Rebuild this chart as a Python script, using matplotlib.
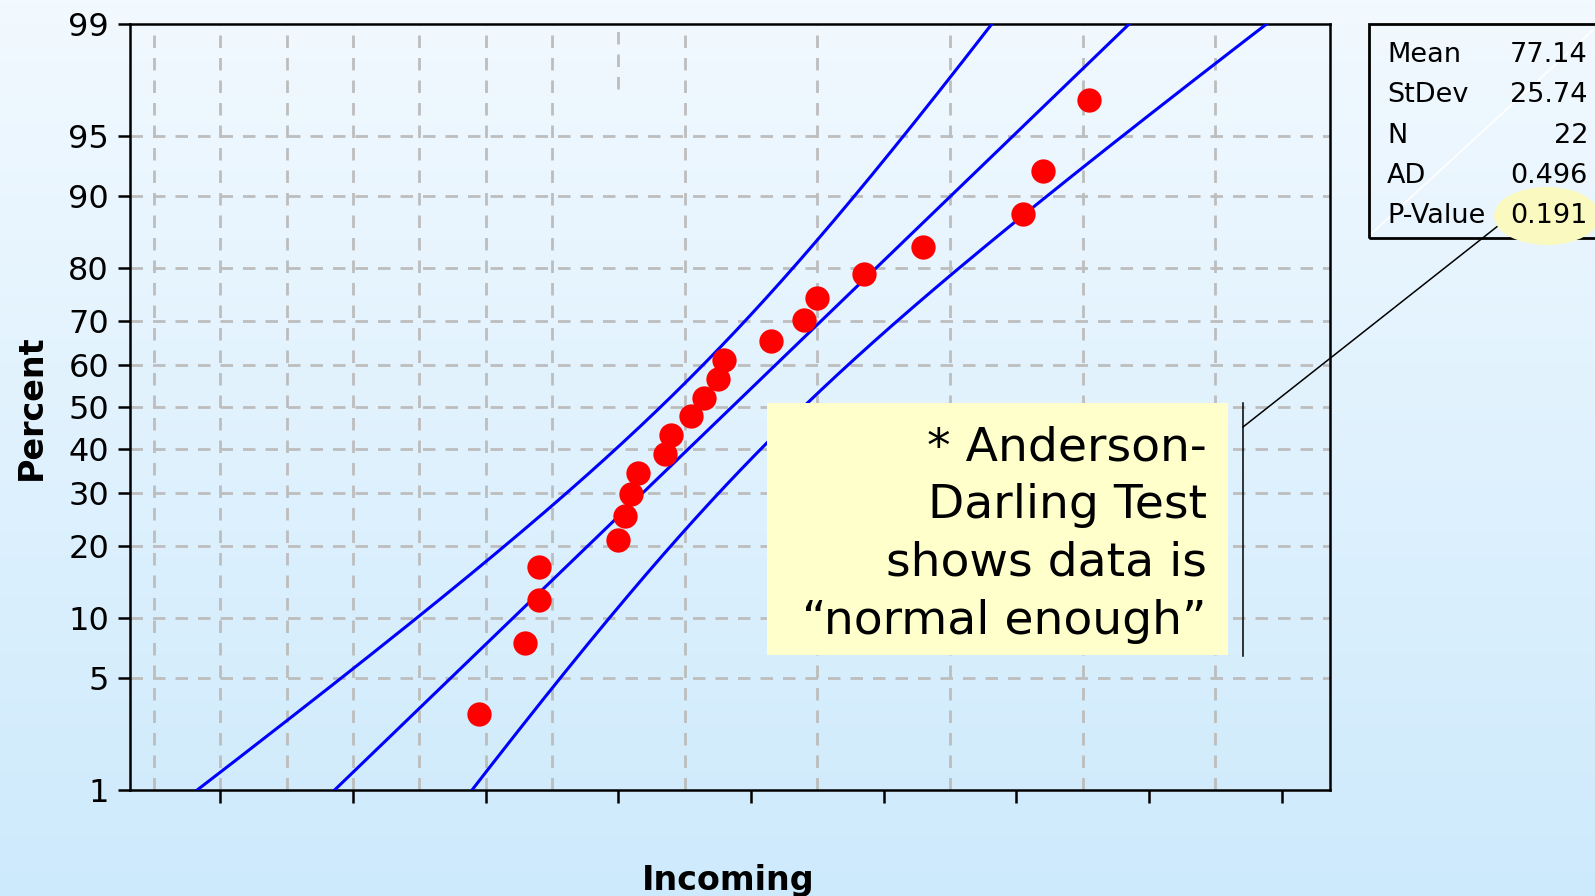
# plot.py 正态概率图（Incoming）
from statistics import NormalDist

import matplotlib
matplotlib.use('Agg')
import matplotlib.pyplot as plt
from matplotlib.lines import Line2D
from matplotlib.patches import Ellipse, Rectangle
from numpy import array, linspace, sqrt, sort

# 数据
incoming = [39, 46, 48, 48, 60, 61, 62, 63, 67, 68, 71, 73, 75, 76, 83, 88, 90, 97, 106, 121, 124, 131]
stat_names = ['Mean', 'StDev', 'N', 'AD', 'P-Value']
stat_values = ['77.14', '25.74', '22', '0.496', '0.191']
percent_ticks = [1, 5, 10, 20, 30, 40, 50, 60, 70, 80, 90, 95, 99]
x_ticks = [0, 20, 40, 60, 80, 100, 120, 140, 160]
x_grid = [-10, 0, 10, 20, 30, 40, 50, 70, 90, 110, 130, 150]
x_grid_part = [60]
x_range = (-13.6, 167.3)
note_text = '* Anderson-\nDarling Test\nshows data is\n\u201cnormal enough\u201d'

W, H = 1595, 896
nd = NormalDist()


def fx(px):
    return px / W


def fy(py):
    return 1 - py / H


# 计算拟合线与置信带
n = len(incoming)
xs = sort(array(incoming, dtype=float))
mean = xs.mean()
sd = xs.std(ddof=1)
zs = [nd.inv_cdf((i - 0.3) / (n + 0.4)) for i in range(1, n + 1)]
z_lo, z_hi = nd.inv_cdf(0.01), nd.inv_cdf(0.99)
zz = linspace(z_lo - 0.1, z_hi + 0.1, 300)
fit = mean + zz * sd
half = nd.inv_cdf(0.975) * sd * sqrt(1 / n + zz ** 2 / (2 * n))

fig = plt.figure(figsize=(W / 100, H / 100), dpi=100)

# 背景渐变
bg = fig.add_axes([0, 0, 1, 1], zorder=-10)
top_c = array([242, 249, 255]) / 255
bot_c = array([205, 234, 252]) / 255
g = linspace(0, 1, 256)[:, None, None]
bg.imshow(top_c + (bot_c - top_c) * g, aspect='auto', extent=[0, 1, 0, 1])
bg.axis('off')

ax = fig.add_axes([fx(130), fy(790), 1200 / W, 766 / H])
ax.set_facecolor('none')

grid_kw = dict(color='#BDBDBD', lw=2.0, ls=(0, (4.5, 3.6)), zorder=1)
for p in percent_ticks[1:-1]:
    ax.axhline(nd.inv_cdf(p / 100), **grid_kw)
for v in x_grid:
    ax.axvline(v, **grid_kw)
for v in x_grid_part:
    ax.axvline(v, ymin=0.915, ymax=1, **grid_kw)

ax.plot(fit - half, zz, color='#0000FF', lw=2.2, zorder=3)
ax.plot(fit, zz, color='#0000FF', lw=2.2, zorder=3)
ax.plot(fit + half, zz, color='#0000FF', lw=2.2, zorder=3)
ax.plot(xs, zs, 'o', color='#FF0000', ms=17.5, mec='none', zorder=4)

ax.set_xlim(x_range)
ax.set_ylim(z_lo, z_hi)
ax.set_yticks([nd.inv_cdf(p / 100) for p in percent_ticks])
ax.set_yticklabels([str(p) for p in percent_ticks])
ax.set_xticks(x_ticks)
ax.set_xticklabels([])
ax.tick_params(axis='both', direction='out', width=1.8, color='black')
ax.tick_params(axis='y', length=8.6, pad=6.5, labelsize=23)
ax.tick_params(axis='x', length=9.4)
for lbl in ax.get_yticklabels():
    lbl.set_family(['Liberation Sans Narrow', 'DejaVu Sans'])
for s in ax.spines.values():
    s.set_linewidth(1.8)
    s.set_color('black')

# 坐标轴标题
fig.text(fx(31), fy(407), 'Percent', rotation=90, ha='center', va='center', fontsize=24, fontweight='bold')
fig.text(fx(728), fy(890), 'Incoming', ha='center', va='baseline', fontsize=24, fontweight='bold')

# 说明框
fig.add_artist(Rectangle((fx(767), fy(655)), (1228 - 767) / W, (655 - 403) / H, transform=fig.transFigure,
                         facecolor='#FFFFCC', edgecolor='none', zorder=5))
fig.text(fx(1207), fy(425), note_text, ha='right', va='top', fontsize=34, linespacing=1.37, zorder=6)
fig.add_artist(Line2D([fx(1243), fx(1243)], [fy(403), fy(656)], color='black', lw=1.1,
                      transform=fig.transFigure, zorder=6))
fig.add_artist(Line2D([fx(1243), fx(1508)], [fy(427), fy(218)], color='black', lw=1.1,
                      transform=fig.transFigure, zorder=6))

# 统计量表
fig.add_artist(Rectangle((fx(1369), fy(238)), (1620 - 1369) / W, (238 - 24) / H, transform=fig.transFigure,
                         facecolor='none', edgecolor='black', lw=2.0, zorder=5))
fig.add_artist(Line2D([fx(1372), fx(1593)], [fy(233), fy(30)], color='white', lw=1.2,
                      transform=fig.transFigure, zorder=5))
fig.add_artist(Ellipse((fx(1547), fy(216)), 106 / W, 58 / H, transform=fig.transFigure,
                       facecolor='#FAFAC0', edgecolor='none', zorder=6))
for i, (name, val) in enumerate(zip(stat_names, stat_values)):
    yb = 62 + i * 40.3
    fig.text(fx(1387), fy(yb), name, ha='left', va='baseline', fontsize=19.5, zorder=7)
    fig.text(fx(1588), fy(yb), val, ha='right', va='baseline', fontsize=19.5, zorder=7)

fig.savefig('out.png', dpi=100)
